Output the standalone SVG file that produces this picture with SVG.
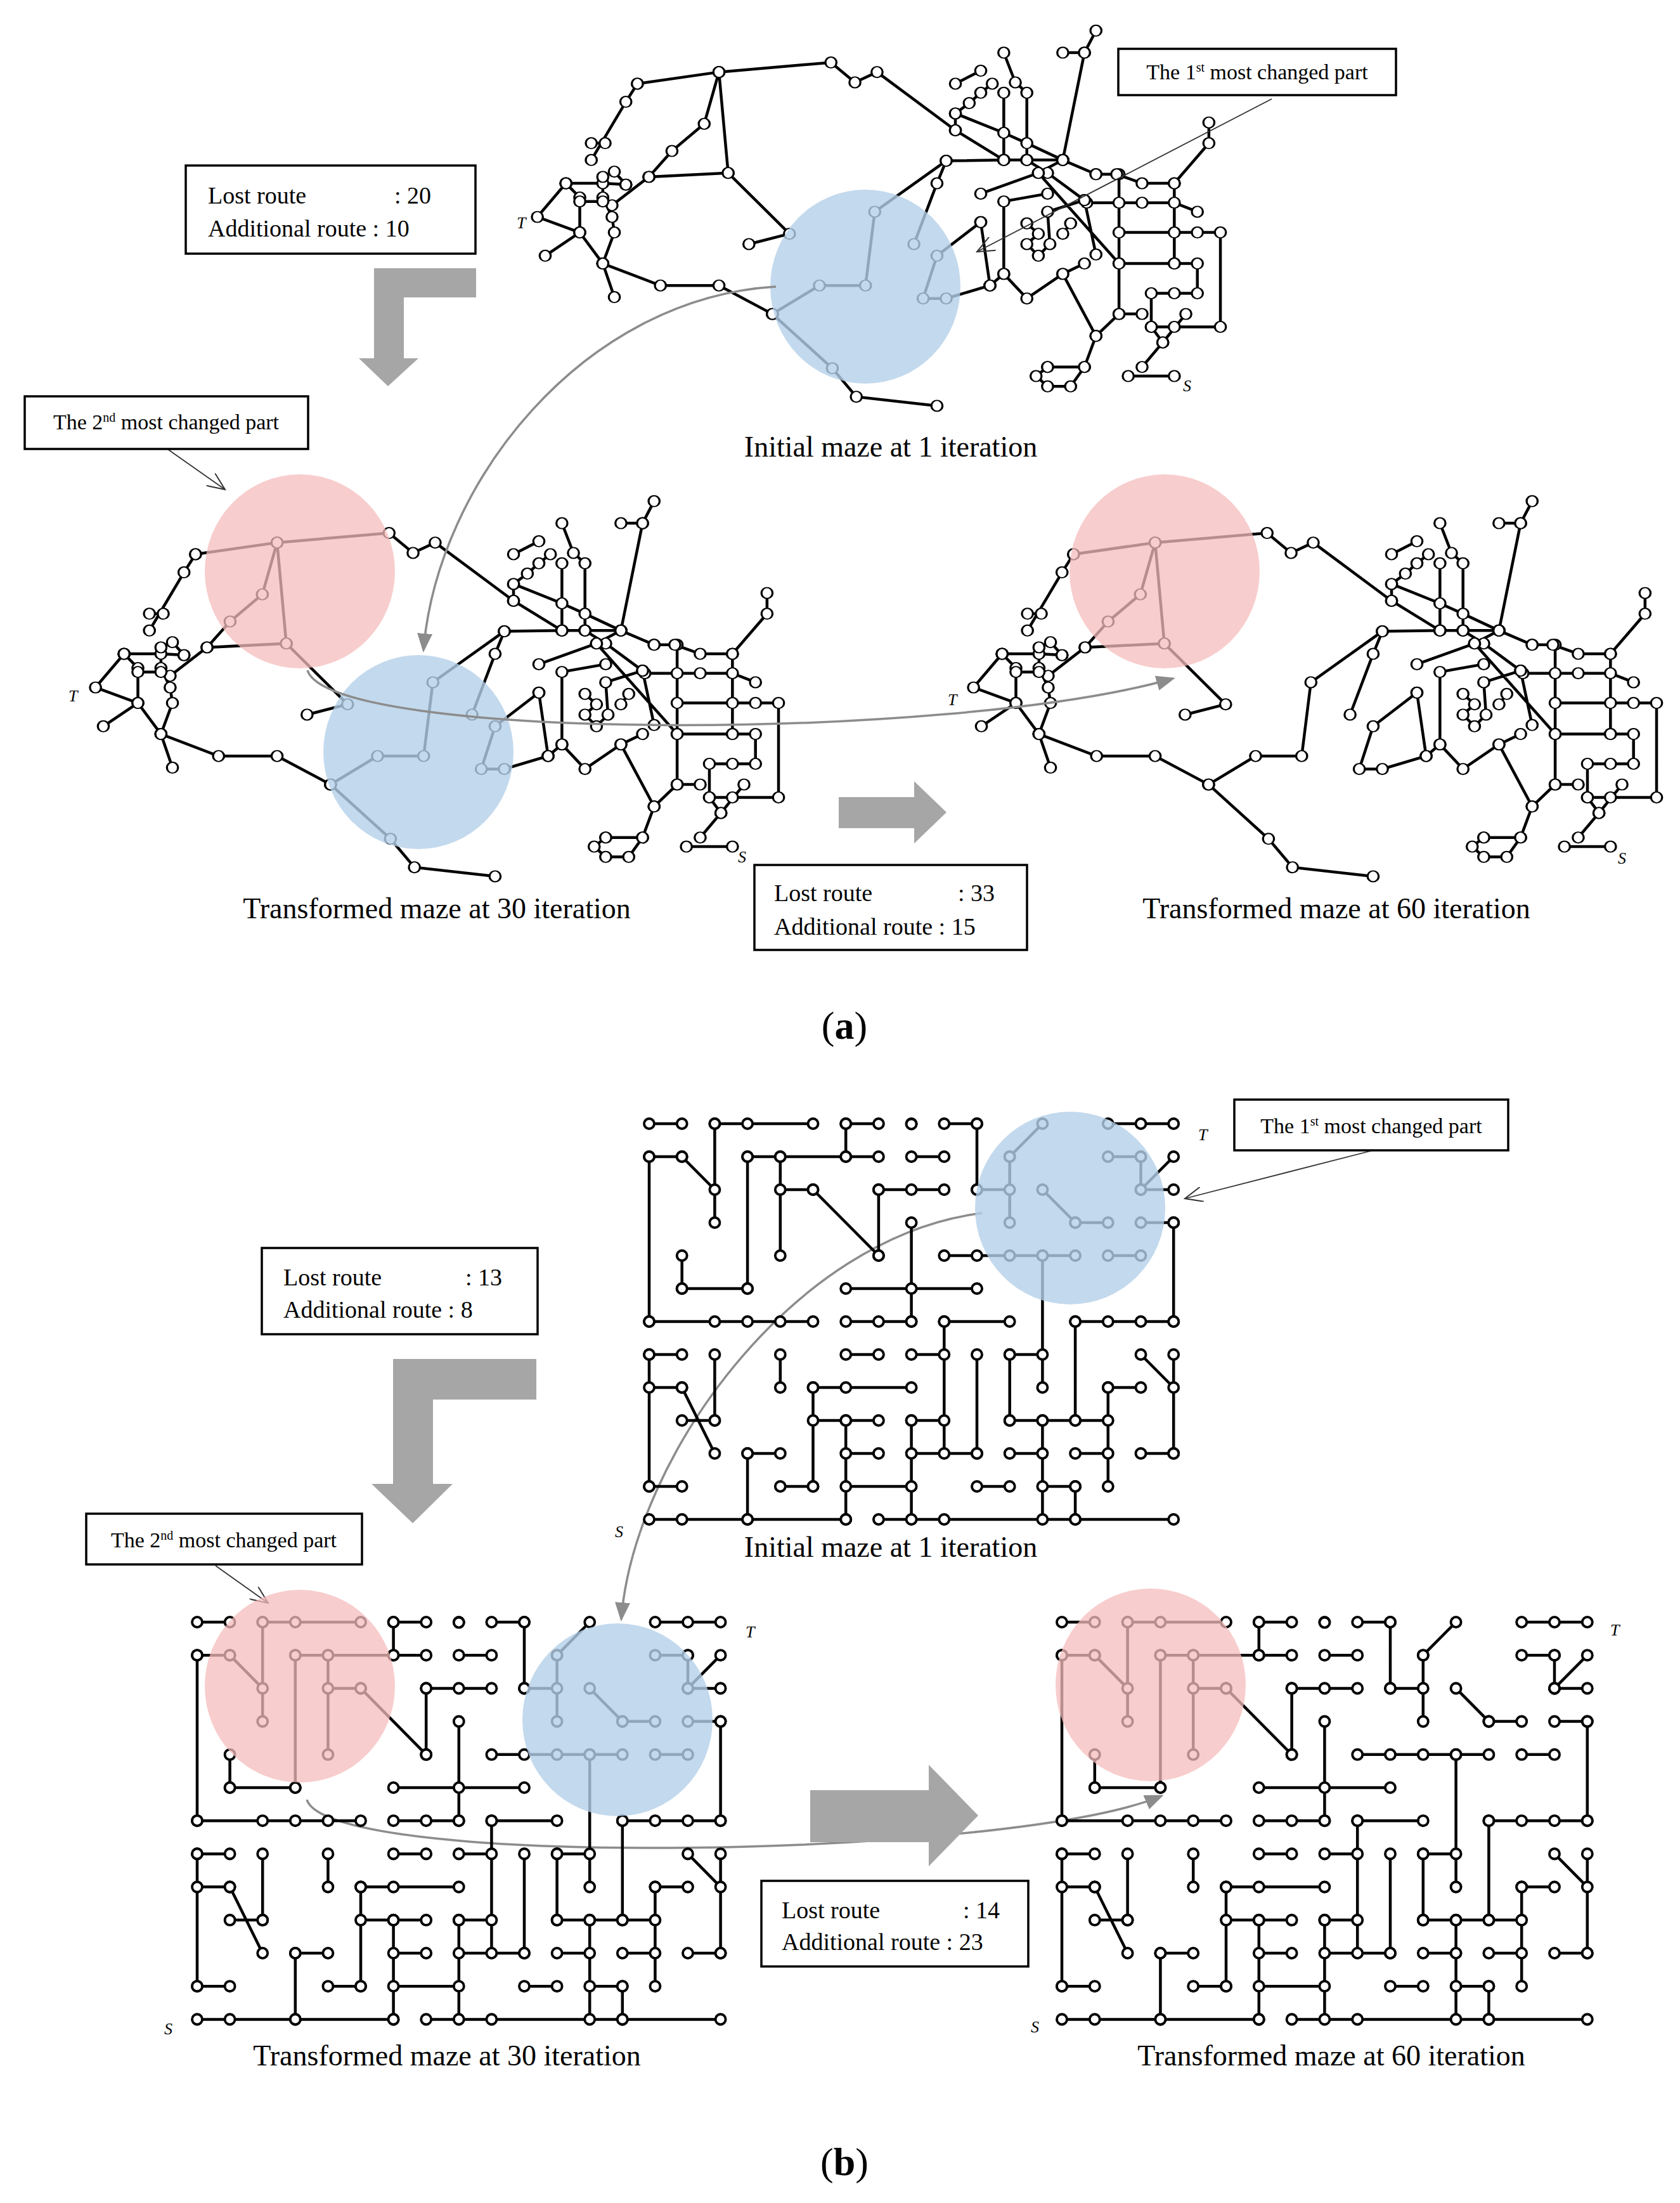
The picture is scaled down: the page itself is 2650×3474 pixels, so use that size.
<svg xmlns="http://www.w3.org/2000/svg" width="2650" height="3474" viewBox="0 0 2650 3474">
<style>
text{font-family:"Liberation Serif","DejaVu Serif",serif;fill:#000}
.lbl{font-size:46px;text-anchor:middle}
.box{fill:#fff;stroke:#000;stroke-width:3.5}
.bt{font-size:38px}
.ct{font-size:34px;text-anchor:middle}
.st{font-size:26px;font-style:italic}
.ln{fill:none;stroke:#000;vector-effect:non-scaling-stroke;stroke-width:4.5}
.ga{marker-start:url(#na);marker-mid:url(#na);marker-end:url(#na)}
.gb{marker-start:url(#nb);marker-mid:url(#nb);marker-end:url(#nb)}
.blue{fill:#b4cfe8;fill-opacity:.8}
.pink{fill:#f6bcbc;fill-opacity:.75}
.garr{fill:#a6a6a6}
.curve{fill:none;stroke:#8c8c8c;stroke-width:3.5;marker-end:url(#ah)}
.thin{fill:none;stroke:#333;stroke-width:1.8;marker-end:url(#ah2)}
</style>
<defs>
<marker id="na" markerUnits="userSpaceOnUse" viewBox="-20 -35 40 70" markerWidth="40" markerHeight="70" refX="0" refY="0" overflow="visible"><ellipse rx="12" ry="21" fill="#fff" stroke="#000" stroke-width="4.5"/></marker>
<marker id="nb" markerUnits="userSpaceOnUse" viewBox="-0.3 -0.3 0.6 0.6" markerWidth="0.6" markerHeight="0.6" refX="0" refY="0" overflow="visible"><circle r="0.155" fill="#fff" stroke="#000" stroke-width="0.075"/></marker>
<marker id="ah" markerUnits="userSpaceOnUse" viewBox="0 0 30 24" markerWidth="30" markerHeight="24" refX="26" refY="12" orient="auto"><path d="M0,0L30,12L0,24z" fill="#8c8c8c"/></marker>
<marker id="ah2" markerUnits="userSpaceOnUse" viewBox="0 0 30 24" markerWidth="30" markerHeight="24" refX="28" refY="12" orient="auto"><path d="M0,0L28,12L0,24" fill="none" stroke="#333" stroke-width="2"/></marker>
<path id="mazeA" class="ln ga" d="M255 250L432 205L675 168L727 245L775 205L945 430L1050 545
M255 250L230 320L155 545 M155 480L185 480
M432 205L452 595L585 830L497 870
M432 205L400 405L330 510L280 610L200 720
M452 595L280 610
M100 635L180 635L230 640
M100 635L38 765L130 825L55 915
M100 635L130 690L130 825L180 945L205 1075
M180 945L305 1030L432 1030L548 1140
M180 610L180 690L200 765L205 825L180 945
M205 590L230 640 M130 705L180 705
M548 1140L650 1030L750 1030L770 745L925 548L1050 545L1100 545L1178 545
M925 548L905 635L855 870
M548 1140L678 1350L730 1460L905 1495
M1000 785L905 915L875 1080L925 1080L1020 1030L1000 785
M1020 1030L1050 985L1050 705L1145 675
M1050 985L1100 1080L1178 985L1225 945
M1178 985L1250 1225L1300 1140L1350 1140
M1300 600L1300 1140
M1420 635L1420 945
M1230 710L1300 710L1350 710L1420 710L1470 745
M1300 825L1420 825L1470 825L1520 825L1520 1190L1420 1190L1370 1190L1370 1060L1420 1060L1470 1060L1470 945L1420 945L1300 945
M1495 400L1495 480L1420 635L1350 635L1295 600L1250 600
M1250 45L1225 130L1178 130 M1225 130L1178 545
M1050 130L1075 245L1100 285L1100 545 M1050 285L1050 545
M1000 200L945 250
M1025 250L1000 285L975 325L945 365L1050 440L1100 480L1178 545L1250 600
M945 365L945 430
M1100 545L1145 595L1225 700L1250 910
M1000 675L1125 595L1178 545
M1125 595L1300 945
M1145 1345L1120 1380L1145 1420L1195 1420L1225 1345L1145 1345 M1225 1345L1250 1225
M1320 1380L1420 1380
M1350 1345L1395 1250L1370 1190 M1395 1250L1445 1140
M1100 790L1125 830L1100 870L1125 915L1150 870L1145 745L1225 700
M1195 790L1178 830"/>
<path id="mazeB" class="ln gb" d="M0 0H1 M2 0H3H5 M6 0H7 M8 0V0.01 M9 0H10 M14 0H15H16
M0 1H1 M3 1H4H6H7 M8 1H9 M14 1H15
M4 2H5 M7 2H8H9 M10 2H11 M15 2H16
M13 3H14 M15 3H16
M9 4H10H11H12H13 M14 4H15
M1 5H3 M6 5H8H10
M0 6H2H3H4H5 M6 6H7H8 M9 6H11 M13 6H14H15H16
M0 7H1 M6 7H7 M8 7H9 M11 7H12
M0 8H1 M5 8H6H8 M14 8H15
M1 9H2 M5 9H6H7 M8 9H9 M11 9H12H13H14
M3 10H4 M6 10H7 M8 10H10 M11 10H12 M13 10H14 M15 10H16
M0 11H1 M4 11H5 M6 11H8 M10 11H11 M12 11H13
M0 12H1H3H6 M7 12H9H13H16
M0 1V6 M0 7V11 M2 0V3 M3 1V5 M1 4V5 M4 1V4 M6 0V1 M7 2V4 M8 3V6 M10 0V2 M11 1V3 M12 4V8 M13 6V9 M16 3V6 M16 7V10
M3 10V12 M4 7V8 M5 8V11 M6 9V12 M8 9V12 M9 6V10 M10 7V10 M11 7V9 M12 9V12 M13 11V12 M14 8V11 M2 7V9 M15 1V2
M11 1L12 0 M1 1L2 2 M12 2L13 3 M15 2L16 1 M5 2L7 4 M1 8L2 10 M15 7L16 8"/>
</defs>
<rect width="2650" height="3474" fill="#fff"/>

<!-- (a) -->
<g id="maze-a-initial"><use href="#mazeA" transform="translate(820,30) scale(0.727,0.408)"/><text class="st" x="815" y="360">T</text><text class="st" x="1866" y="617">S</text></g>
<g id="maze-a-30"><use href="#mazeA" transform="translate(123,772) scale(0.727,0.408)"/><text class="st" x="108" y="1106">T</text><text class="st" x="1164" y="1360">S</text></g>
<g id="maze-a-60"><use href="#mazeA" transform="translate(1508,772) scale(0.727,0.408)"/><text class="st" x="1495" y="1112">T</text><text class="st" x="2552" y="1362">S</text></g>
<ellipse class="blue" cx="1365" cy="452" rx="150" ry="153"/>
<ellipse class="pink" cx="473" cy="901" rx="150" ry="153"/>
<ellipse class="blue" cx="660" cy="1186" rx="150" ry="153"/>
<ellipse class="pink" cx="1837" cy="901" rx="150" ry="153"/>

<g id="connectors">
<path class="curve" d="M1224,452 C920,470 690,760 668,1025"/>
<path class="curve" d="M485,1057 C520,1170 1500,1170 1850,1070"/>
<path class="thin" d="M2006,156 L1541,397"/>
<path class="thin" d="M264,708 L355,772"/>
<path class="curve" d="M1549,1913 C1250,1950 1000,2300 980,2553"/>
<path class="curve" d="M484,2838 C520,2950 1600,2930 1832,2832"/>
<path class="thin" d="M2166,1814 L1869,1890"/>
<path class="thin" d="M340,2469 L423,2528"/>
</g>

<g id="arrow-a1"><path class="garr" d="M590,423H751V469H637V565H660L612,609L566,565H590Z"/></g>
<g id="arrow-a2"><path class="garr" d="M1323,1257H1442V1232L1493,1281L1442,1330V1306H1323Z"/></g>

<g id="box-a1"><rect class="box" x="1764" y="77" width="438" height="73"/><text class="ct" x="1983" y="125">The 1<tspan font-size="20" dy="-12">st</tspan><tspan dy="12"> most changed part</tspan></text></g>
<g id="box-a2"><rect class="box" x="39" y="625" width="447" height="83"/><text class="ct" x="262" y="677">The 2<tspan font-size="20" dy="-12">nd</tspan><tspan dy="12"> most changed part</tspan></text></g>
<g id="box-a3"><rect class="box" x="293" y="261" width="457" height="139"/><text class="bt" x="328" y="321">Lost route</text><text class="bt" x="622" y="321">: 20</text><text class="bt" x="328" y="373">Additional route : 10</text></g>
<g id="box-a4"><rect class="box" x="1190" y="1364" width="430" height="134"/><text class="bt" x="1221" y="1421">Lost route</text><text class="bt" x="1511" y="1421">: 33</text><text class="bt" x="1221" y="1474">Additional route : 15</text></g>
<text class="lbl" x="1405" y="720">Initial maze at 1 iteration</text>
<text class="lbl" x="689" y="1448">Transformed maze at 30 iteration</text>
<text class="lbl" x="2108" y="1448">Transformed maze at 60 iteration</text>
<text x="1332" y="1638" font-size="62" text-anchor="middle">(<tspan font-weight="bold">a</tspan>)</text>

<!-- (b) -->
<g id="maze-b-initial"><use href="#mazeB" transform="translate(1024,1772) scale(51.7,52)"/><text class="st" x="1890" y="1798">T</text><text class="st" x="970" y="2424">S</text></g>
<g id="maze-b-30"><use href="#mazeB" transform="translate(311,2558) scale(51.6,52.2)"/><text class="st" x="1176" y="2582">T</text><text class="st" x="259" y="3208">S</text></g>
<g id="maze-b-60"><use href="#mazeB" transform="translate(1675,2558) scale(51.8,52.2)"/><text class="st" x="2540" y="2579">T</text><text class="st" x="1626" y="3205">S</text></g>
<ellipse class="blue" cx="1688" cy="1905" rx="150" ry="152"/>
<ellipse class="pink" cx="473" cy="2659" rx="150" ry="152"/>
<ellipse class="blue" cx="974" cy="2712" rx="150" ry="152"/>
<ellipse class="pink" cx="1815" cy="2657" rx="150" ry="152"/>

<g id="arrow-b1"><path class="garr" d="M620,2143H846V2207H683V2340H714L651,2402L586,2340H620Z"/></g>
<g id="arrow-b2"><path class="garr" d="M1278,2823H1465V2783L1543,2863L1465,2943V2905H1278Z"/></g>

<g id="box-b1"><rect class="box" x="1947" y="1734" width="432" height="80"/><text class="ct" x="2163" y="1787">The 1<tspan font-size="20" dy="-12">st</tspan><tspan dy="12"> most changed part</tspan></text></g>
<g id="box-b2"><rect class="box" x="136" y="2387" width="435" height="80"/><text class="ct" x="353" y="2440">The 2<tspan font-size="20" dy="-12">nd</tspan><tspan dy="12"> most changed part</tspan></text></g>
<g id="box-b3"><rect class="box" x="413" y="1968" width="435" height="136"/><text class="bt" x="447" y="2027">Lost route</text><text class="bt" x="734" y="2027">: 13</text><text class="bt" x="447" y="2078">Additional route : 8</text></g>
<g id="box-b4"><rect class="box" x="1201" y="2966" width="421" height="135"/><text class="bt" x="1233" y="3025">Lost route</text><text class="bt" x="1519" y="3025">: 14</text><text class="bt" x="1233" y="3075">Additional route : 23</text></g>
<text class="lbl" x="1405" y="2455">Initial maze at 1 iteration</text>
<text class="lbl" x="705" y="3257">Transformed maze at 30 iteration</text>
<text class="lbl" x="2100" y="3257">Transformed maze at 60 iteration</text>
<text x="1332" y="3430" font-size="62" text-anchor="middle">(<tspan font-weight="bold">b</tspan>)</text>
</svg>
